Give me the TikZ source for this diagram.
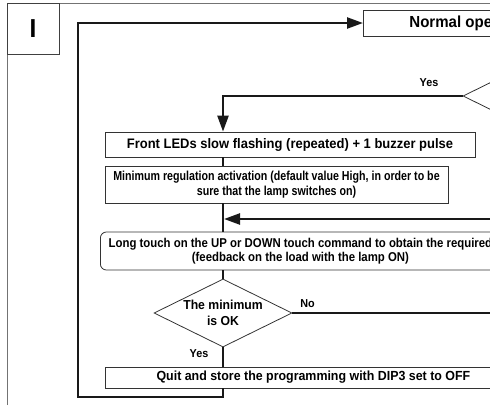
\documentclass[tikz,border=0pt]{standalone}
\usepackage{fontspec}
% condensed medium-weight faces: bold Liberation Sans narrowed by varying amounts
\setmainfont{Liberation Sans}[BoldFeatures={FakeStretch=0.94}]
\newfontfamily\midfont{Liberation Sans}[BoldFeatures={FakeStretch=0.89}]
\newfontfamily\narrowfont{Liberation Sans}[BoldFeatures={FakeStretch=0.82}]
\usetikzlibrary{arrows.meta,shapes.geometric}
\begin{document}
\begin{tikzpicture}[x=1pt,y=-1pt,
  box/.style={draw=black!80, line width=0.8pt, inner sep=0pt,
    font=\bfseries\fontsize{13.5}{15}\selectfont},
  flow/.style={draw=black!90, line width=2.4pt},
  tip/.style={-{Triangle[length=16pt,width=11pt]}},
  decision/.style={diamond, draw=black!80, line width=0.8pt, aspect=2,
    minimum width=138pt, minimum height=68pt, inner sep=0pt},
  lbl/.style={font=\bfseries\fontsize{11.5}{12}\selectfont, inner sep=0pt}
]
\useasboundingbox (0,0) rectangle (490,405);
\clip (0,0) rectangle (490,405);

% page frame and section tab
\draw[black!55, line width=0.9pt] (7,405) -- (7,3) -- (495,3);
\node[draw=black!75, line width=0.8pt, minimum width=52pt, minimum height=51pt,
  inner sep=0pt, font=\bfseries\fontsize{26}{26}\selectfont] (sec) at (33,28.5) {I};

% steps of the procedure
\node[box, anchor=west, minimum height=26pt, inner xsep=46pt,
  font=\bfseries\fontsize{16}{18}\selectfont] (normal) at (363,23) {Normal operation};
\node[decision] (q1) at (532,96) {};
\node[box, minimum width=370pt, minimum height=25pt,
  font=\bfseries\fontsize{13.8}{15}\selectfont] (leds) at (290,144.5)
  {Front LEDs slow flashing (repeated) + 1 buzzer pulse};
\node[box, minimum width=343pt, minimum height=37pt, align=center,
  font=\narrowfont\bfseries\fontsize{13}{15}\selectfont] (minreg) at (276.5,184.5)
  {Minimum regulation activation (default value High, in order to be\\sure that the lamp switches on)};
\node[box, rounded corners=6pt, anchor=west, minimum width=400pt, minimum height=38pt,
  align=center, font=\midfont\bfseries\fontsize{12.8}{14}\selectfont] (touch) at (100,251)
  {Long touch on the UP or DOWN touch command to obtain the required\\(feedback on the load with the lamp ON)};
\node[decision, align=center, font=\bfseries\fontsize{13}{16}\selectfont] (q2) at (223,313)
  {The minimum\\is OK};
\node[box, anchor=west, minimum width=416pt, minimum height=21pt,
  font=\bfseries\fontsize{13.2}{15}\selectfont] (quit) at (105,377.5)
  {Quit and store the programming with DIP3 set to OFF};

% off-page ends of the loops
\coordinate (ret) at (495,219);
\coordinate (loopbl) at (78,397);
\coordinate (looptl) at (78,23);

% connectors
\draw[flow, tip] (q1.west) -| (q2.north |- leds.north);
\draw[flow] (q2.north |- leds.south) -- (q2.north |- minreg.north);
\draw[flow] (q2.north |- minreg.south) -- (q2.north |- touch.north);
\draw[flow] (q2.north |- touch.south) -- (q2.north);
\draw[flow] (q2.south) -- (q2.south |- quit.north);
\draw[flow, tip, shorten >=1pt] (ret) -- (ret -| q2.north);
\draw[flow] (q2.east) -- (q2.east -| ret);
\draw[flow, tip] (q2.south |- quit.south) |- (loopbl) -- (looptl) -- (normal.west);

% branch labels
\node[lbl] (yes1) at (429,83) {Yes};
\node[lbl] (no) at (307.5,304) {No};
\node[lbl] (yes2) at (199,354) {Yes};
\end{tikzpicture}
\end{document}
